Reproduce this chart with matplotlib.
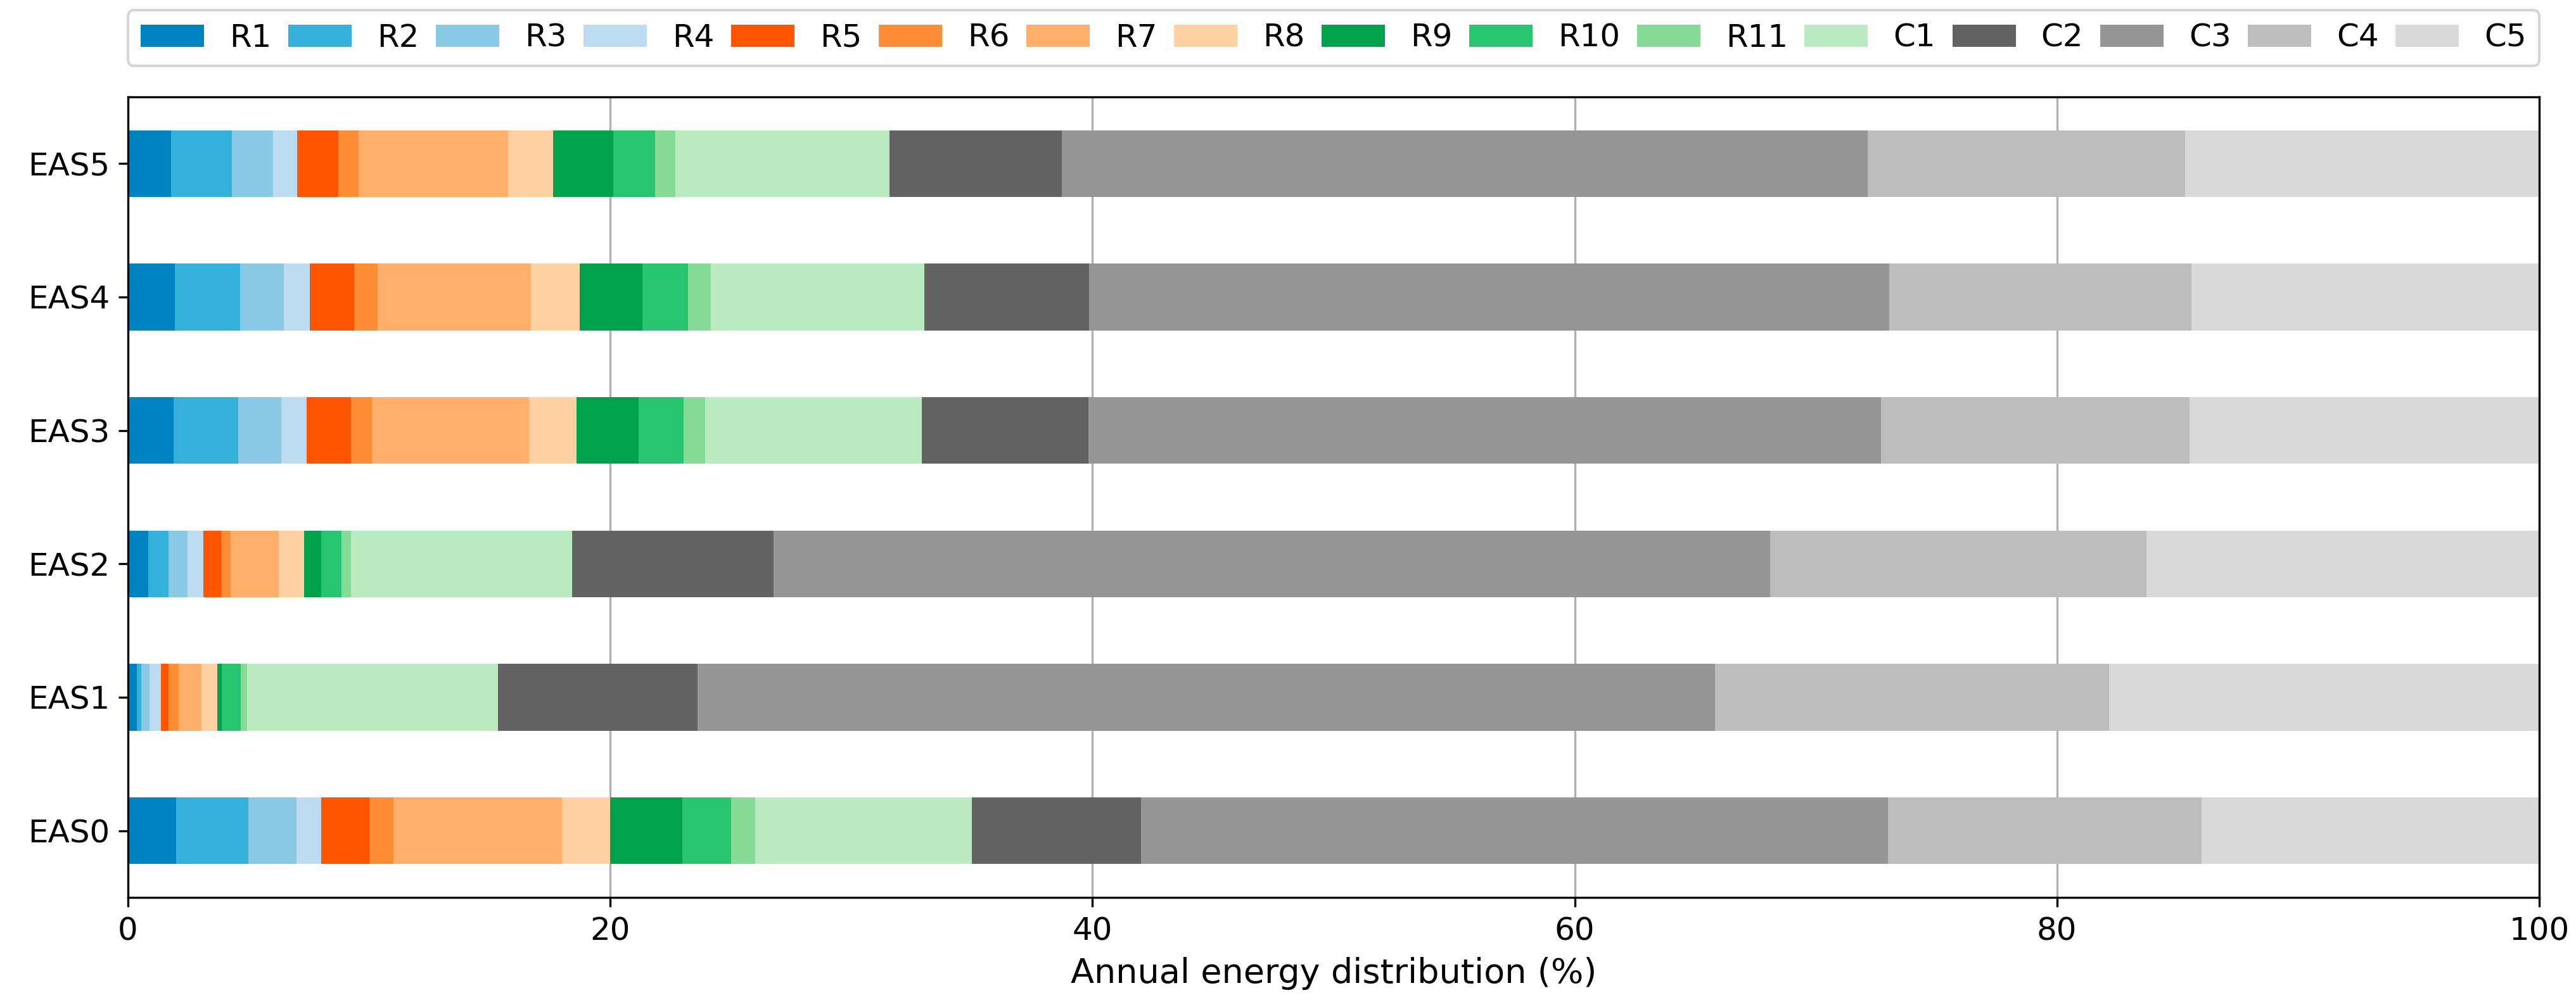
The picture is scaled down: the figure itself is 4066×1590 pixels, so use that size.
import numpy as np
import matplotlib
matplotlib.use('Agg')
import matplotlib.pyplot as plt

# categories (bottom to top)
scenarios = ['EAS0', 'EAS1', 'EAS2', 'EAS3', 'EAS4', 'EAS5']
components = ['R1', 'R2', 'R3', 'R4', 'R5', 'R6', 'R7', 'R8', 'R9', 'R10', 'R11',
              'C1', 'C2', 'C3', 'C4', 'C5']

# share of annual energy (%) per component, one list per scenario
eas0 = [2.00, 3.00, 2.00, 1.00, 2.00, 1.00, 7.00, 2.00, 3.00, 2.00, 1.00, 9.00, 7.00, 31.00, 13.00, 14.00]
eas1 = [0.37, 0.17, 0.34, 0.49, 0.32, 0.40, 0.95, 0.66, 0.18, 0.79, 0.26, 10.40, 8.28, 42.22, 16.33, 17.84]
eas2 = [0.85, 0.84, 0.77, 0.66, 0.74, 0.40, 1.99, 1.04, 0.72, 0.84, 0.41, 9.16, 8.35, 41.34, 15.59, 16.30]
eas3 = [1.90, 2.66, 1.80, 1.06, 1.82, 0.88, 6.51, 1.98, 2.57, 1.86, 0.89, 8.98, 6.93, 32.86, 12.79, 14.51]
eas4 = [1.95, 2.70, 1.81, 1.07, 1.84, 0.97, 6.37, 2.03, 2.60, 1.89, 0.94, 8.85, 6.85, 33.18, 12.52, 14.43]
eas5 = [1.79, 2.53, 1.70, 1.00, 1.71, 0.84, 6.20, 1.87, 2.48, 1.74, 0.83, 8.90, 7.14, 33.43, 13.16, 14.68]

colors = ['#0083c1', '#33b1da', '#89c9e3', '#bedcf1',
          '#ff5500', '#ff8d35', '#ffaf69', '#ffd0a1',
          '#00a34b', '#27c56f', '#86db97', '#b9eac0',
          '#636363', '#969696', '#bdbdbd', '#d9d9d9']

plt.rcParams['font.size'] = 12

data = np.array([eas0, eas1, eas2, eas3, eas4, eas5])
y = np.arange(len(scenarios))

fig = plt.figure(figsize=(4066 / 300, 1590 / 300), dpi=300)
ax = fig.add_axes([0.0497, 0.1088, 0.936, 0.795])

# stacked horizontal bars
left = np.zeros(len(scenarios))
for i, name in enumerate(components):
    ax.barh(y, data[:, i], left=left, height=0.5, color=colors[i],
            label=name, linewidth=0, zorder=2)
    left = left + data[:, i]

ax.set_yticks(y)
ax.set_yticklabels(scenarios)
ax.set_xlim(0, 100)
ax.set_ylim(-0.5, 5.5)
ax.set_xticks([0, 20, 40, 60, 80, 100])
ax.xaxis.grid(True, color='#b0b0b0', linewidth=0.8)
ax.set_axisbelow(True)
ax.set_xlabel('Annual energy distribution (%)', fontsize=13)

ax.legend(loc='lower left', bbox_to_anchor=(0, 1.039, 1, 0.07), mode='expand',
          ncol=len(components), borderaxespad=0)

fig.savefig('out.png', dpi=300)
